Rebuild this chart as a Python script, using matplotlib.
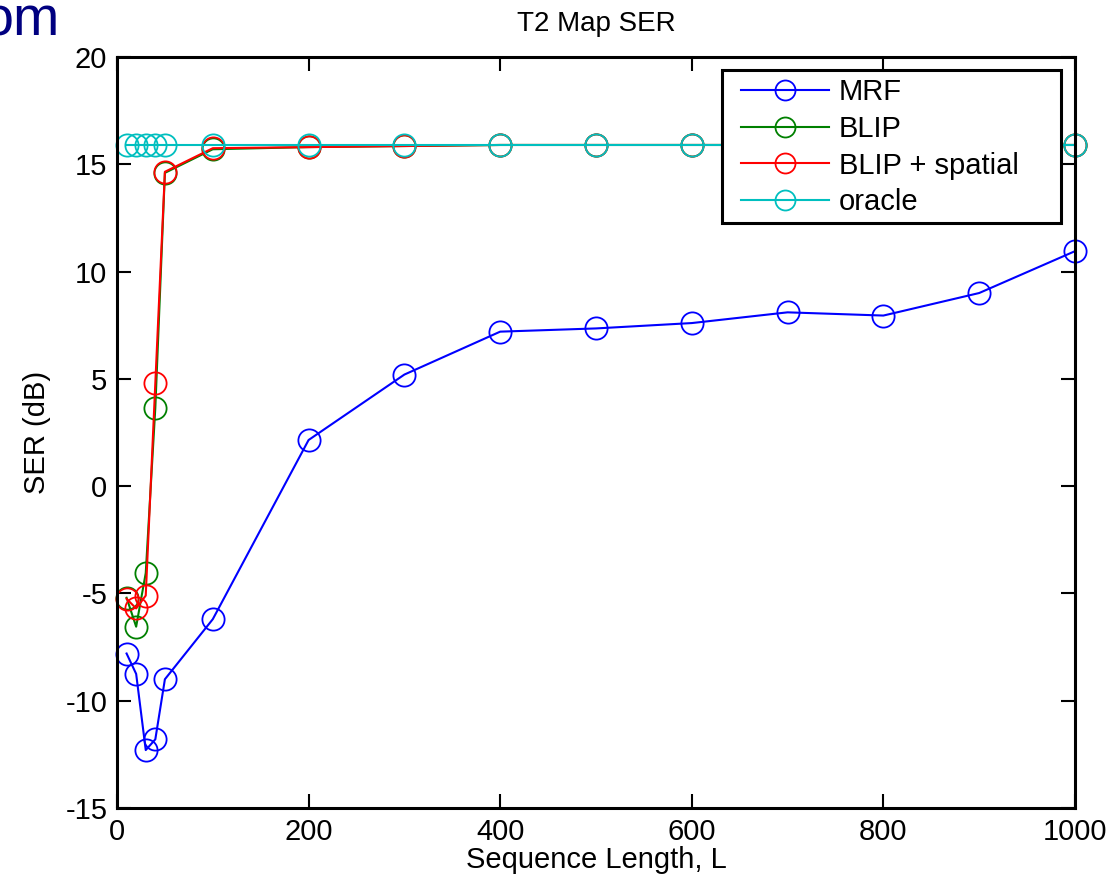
import matplotlib
matplotlib.use("Agg")
import matplotlib.pyplot as plt
from matplotlib.patches import Rectangle

plt.rcParams["font.family"] = ["Liberation Sans", "DejaVu Sans"]
plt.rcParams["axes.unicode_minus"] = False

seq_len = [10, 20, 30, 40, 50, 100, 200, 300, 400, 500, 600, 700, 800, 900, 1000]
ser_mrf = [-7.8, -8.75, -12.3, -11.8, -9.0, -6.2, 2.15, 5.2, 7.2, 7.35, 7.6, 8.1, 7.95, 9.0, 10.95]
ser_blip = [-5.2, -6.55, -4.05, 3.65, 14.6, 15.7, 15.8, 15.85, 15.9, 15.9, 15.9, 15.9, 15.9, 15.9, 15.9]
ser_blip_spatial = [-5.25, -5.7, -5.1, 4.8, 14.65, 15.75, 15.8, 15.85, 15.9, 15.9, 15.9, 15.9, 15.9, 15.9, 15.9]
ser_oracle = [15.9] * 15

series = [
    ("MRF", ser_mrf, (0, 0, 1)),
    ("BLIP", ser_blip, (0, 0.5, 0)),
    ("BLIP + spatial", ser_blip_spatial, (1, 0, 0)),
    ("oracle", ser_oracle, (0, 0.75, 0.75)),
]

fig = plt.figure(figsize=(11.09, 8.85), dpi=100)
ax = fig.add_axes([0.1055, 0.087, 0.8638, 0.8486])

for name, vals, col in series:
    ax.plot(seq_len, vals, color=col, lw=1.5, marker="o", ms=16,
            mfc="none", mec=col, mew=1.3, label=name, clip_on=False)

ax.set_xlim(0, 1000)
ax.set_ylim(-15, 20)
ax.set_xticks(range(0, 1001, 200))
ax.set_yticks(range(-15, 21, 5))
ax.tick_params(direction="in", length=10, width=1.5, labelsize=21,
               top=True, right=True, pad=7)
for sp in ax.spines.values():
    sp.set_linewidth(2.2)

ax.set_xlabel("Sequence Length, L", fontsize=21, labelpad=0)
ax.set_ylabel("SER (dB)", fontsize=21, labelpad=10)
ax.set_title("T2 Map SER", fontsize=20, pad=19)

# MATLAB-style legend: wide box, handles flush left
box = Rectangle((0.6315, 0.7789), 0.354, 0.2038, transform=ax.transAxes,
                facecolor="white", edgecolor="black", lw=2.2, zorder=4.9)
ax.add_patch(box)
leg = ax.legend(loc="upper left", bbox_to_anchor=(0.6514, 0.972),
                fontsize=21, handlelength=3.0, frameon=False,
                borderaxespad=0, borderpad=0, labelspacing=0.3,
                handletextpad=0.35, markerscale=0.9)
leg.set_zorder(5)

fig.text(60 / 1109, 1 - 35 / 885, "om", fontsize=40, color="#000080",
         ha="right", va="baseline")

fig.savefig("out.png", dpi=100)
